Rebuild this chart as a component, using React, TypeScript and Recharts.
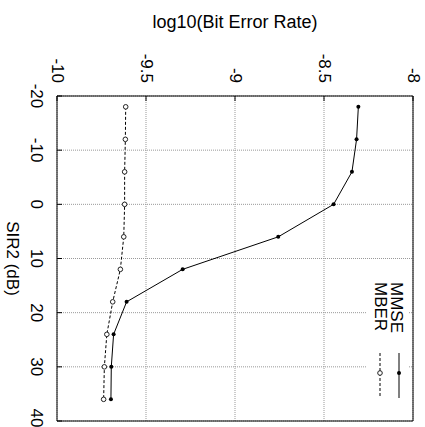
import {
  ScatterChart,
  Scatter,
  XAxis,
  YAxis,
  CartesianGrid,
  Legend,
} from "recharts";

const sir = [-18, -12, -6, 0, 6, 12, 18, 24, 30, 36];
const mmse = [-8.307, -8.317, -8.343, -8.446, -8.757, -9.294, -9.609, -9.682, -9.695, -9.697];
const mber = [-9.614, -9.616, -9.62, -9.62, -9.625, -9.644, -9.687, -9.72, -9.734, -9.738];

const berTicks = [-10, -9.5, -9, -8.5, -8];
const sirTicks = [-20, -10, 0, 10, 20, 30, 40];

const mmseData = sir.map((s, i) => ({ sir: s, ber: mmse[i] }));
const mberData = sir.map((s, i) => ({ sir: s, ber: mber[i] }));

const FONT = "'Liberation Sans', Arial, Helvetica, sans-serif";

const TopTick = (props: any) => {
  const { x, y, payload } = props;
  return (
    <text
      x={x}
      y={y}
      transform={`rotate(90, ${x}, ${y})`}
      textAnchor="end"
      dominantBaseline="central"
      fontFamily={FONT}
      fontSize={17}
      fill="#000"
    >
      {payload.value}
    </text>
  );
};

const LeftTick = (props: any) => {
  const { x, y, payload } = props;
  return (
    <text
      x={x}
      y={y}
      transform={`rotate(90, ${x}, ${y})`}
      textAnchor="middle"
      dominantBaseline="central"
      fontFamily={FONT}
      fontSize={17}
      fill="#000"
    >
      {payload.value}
    </text>
  );
};

const NoTick = () => null;

const MmseDot = (props: any) => (
  <circle cx={props.cx} cy={props.cy} r={2} fill="#000" />
);
const MberDot = (props: any) => (
  <circle cx={props.cx} cy={props.cy} r={2.3} fill="#fff" stroke="#222" strokeWidth={1} />
);

const renderLegend = () => (
  <svg width={42} height={126}>
    {/* MMSE: right column */}
    <text
      x={30}
      y={4}
      transform="rotate(90, 30, 4)"
      dominantBaseline="central"
      fontFamily={FONT}
      fontSize={17}
      fill="#000"
    >
      MMSE
    </text>
    <line x1={33} y1={75} x2={33} y2={120} stroke="#000" strokeWidth={1} />
    <circle cx={33} cy={95} r={2} fill="#000" />
    {/* MBER: left column */}
    <text
      x={14}
      y={4}
      transform="rotate(90, 14, 4)"
      dominantBaseline="central"
      fontFamily={FONT}
      fontSize={17}
      fill="#000"
    >
      MBER
    </text>
    <line x1={14} y1={75} x2={14} y2={120} stroke="#000" strokeWidth={1} strokeDasharray="3 2" />
    <circle cx={14} cy={95} r={2.3} fill="#fff" stroke="#222" strokeWidth={1} />
  </svg>
);

const App = () => {
  return (
    <div style={{ position: "absolute", left: 0, top: 0, background: "#fff" }}>
      <ScatterChart
        width={425}
        height={427}
        margin={{ top: 0, right: 11, bottom: 5, left: 0 }}
      >
        <CartesianGrid stroke="#999" strokeDasharray="1 1" />
        <XAxis
          type="number"
          dataKey="ber"
          orientation="top"
          domain={[-10, -8]}
          ticks={berTicks}
          height={96}
          tickSize={-5}
          tickMargin={18}
          tick={<TopTick />}
          stroke="#000"
          label={({ viewBox }: any) => (
            <text
              x={viewBox.x + viewBox.width / 2}
              y={22}
              textAnchor="middle"
              dominantBaseline="central"
              fontFamily={FONT}
              fontSize={18}
              fill="#000"
            >
              log10(Bit Error Rate)
            </text>
          )}
        />
        <XAxis
          xAxisId="b"
          type="number"
          orientation="bottom"
          domain={[-10, -8]}
          ticks={berTicks}
          height={1}
          tickSize={-5}
          tick={<NoTick />}
          stroke="#000"
        />
        <YAxis
          type="number"
          dataKey="sir"
          reversed
          domain={[-20, 40]}
          ticks={sirTicks}
          width={57}
          tickSize={-5}
          tickMargin={26}
          tick={<LeftTick />}
          stroke="#000"
          label={({ viewBox }: any) => (
            <text
              x={12}
              y={viewBox.y + viewBox.height / 2}
              transform={`rotate(90, 12, ${viewBox.y + viewBox.height / 2})`}
              textAnchor="middle"
              dominantBaseline="central"
              fontFamily={FONT}
              fontSize={17}
              fill="#000"
            >
              SIR2 (dB)
            </text>
          )}
        />
        <YAxis
          yAxisId="r"
          type="number"
          orientation="right"
          reversed
          domain={[-20, 40]}
          ticks={sirTicks}
          width={1}
          tickSize={-5}
          tick={<NoTick />}
          stroke="#000"
        />
        <Legend
          layout="vertical"
          align="center"
          verticalAlign="middle"
          content={renderLegend}
          wrapperStyle={{
            position: "absolute",
            left: 366,
            top: 278,
            width: 42,
            height: 126,
            background: "#fff",
          }}
        />
        <Scatter
          name="MMSE"
          data={mmseData}
          line={{ stroke: "#000", strokeWidth: 1 }}
          shape={MmseDot}
          isAnimationActive={false}
        />
        <Scatter
          name="MBER"
          data={mberData}
          line={{ stroke: "#000", strokeWidth: 1, strokeDasharray: "3 2" }}
          shape={MberDot}
          isAnimationActive={false}
        />
      </ScatterChart>
    </div>
  );
};

export default App;
